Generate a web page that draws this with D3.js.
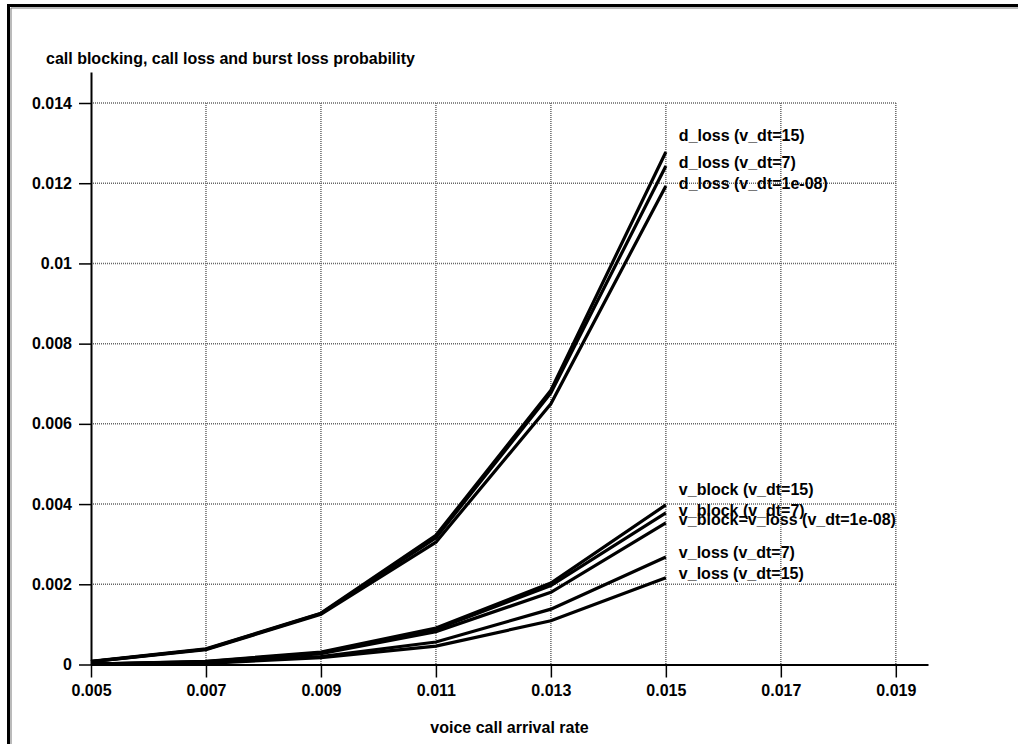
<!DOCTYPE html>
<html>
<head>
<meta charset="utf-8">
<script src="https://cdn.jsdelivr.net/npm/d3@7"></script>
<style>
  html, body { margin: 0; padding: 0; background: #fff; }
  svg { display: block; }
  text { font-family: "Liberation Sans", Arial, sans-serif; font-weight: bold; font-size: 16px; fill: #000; }
</style>
</head>
<body>
<svg></svg>
<script>
// voice call arrival rate (x)
const rates = [0.005, 0.007, 0.009, 0.011, 0.013, 0.015];

const seriesNames = [
  "d_loss (v_dt=15)",
  "d_loss (v_dt=7)",
  "d_loss (v_dt=1e-08)",
  "v_block (v_dt=15)",
  "v_block (v_dt=7)",
  "v_block=v_loss (v_dt=1e-08)",
  "v_loss (v_dt=7)",
  "v_loss (v_dt=15)"
];

const dLoss15 = [0.00008, 0.00039, 0.00128, 0.00322, 0.00684, 0.01278];
const dLoss7 = [0.00007, 0.00038, 0.00127, 0.00316, 0.00677, 0.01243];
const dLoss1e8 = [0.00007, 0.00037, 0.00125, 0.00305, 0.0065, 0.01193];
const vBlock15 = [0.00001, 0.00008, 0.00031, 0.00091, 0.00203, 0.00398];
const vBlock7 = [0.00001, 0.00007, 0.00029, 0.00088, 0.00197, 0.00378];
const vBlockLoss1e8 = [0.00001, 0.00006, 0.00027, 0.00082, 0.0018, 0.00353];
const vLoss7 = [0.00001, 0.00004, 0.0002, 0.00056, 0.00138, 0.00268];
const vLoss15 = [0.00001, 0.00003, 0.00017, 0.00046, 0.00109, 0.00216];

// where each end label sits, in probability units
const labelValues = [0.013055, 0.012382, 0.011858, 0.004227, 0.003703, 0.003479, 0.002656, 0.002132];

const xTicks = [0.005, 0.007, 0.009, 0.011, 0.013, 0.015, 0.017, 0.019];
const yTicks = [0, 0.002, 0.004, 0.006, 0.008, 0.01, 0.012, 0.014];

const allSeries = [dLoss15, dLoss7, dLoss1e8, vBlock15, vBlock7, vBlockLoss1e8, vLoss7, vLoss15];

const svgWidth = 1018;
const svgHeight = 744;

const svg = d3.select("svg")
  .attr("width", svgWidth)
  .attr("height", svgHeight);

svg.append("rect")
  .attr("width", svgWidth)
  .attr("height", svgHeight)
  .attr("fill", "#fff");

// frame, only top and left edges show
svg.append("path")
  .attr("d", "M8.5,744 V5.5 H1018")
  .attr("fill", "none")
  .attr("stroke", "#000")
  .attr("stroke-width", 3);
svg.append("path")
  .attr("d", "M11,744 V8 H1018")
  .attr("fill", "none")
  .attr("stroke", "#777")
  .attr("stroke-width", 1);

const xScale = d3.scaleLinear()
  .domain([0.005, 0.01956])
  .range([91, 928]);

const yScale = d3.scaleLinear()
  .domain([0, 0.014])
  .range([664.5, 103]);

const yTop = yScale.invert(72);

// grid
const grid = svg.append("g")
  .attr("stroke", "#666")
  .attr("stroke-width", 1.5)
  .attr("stroke-dasharray", "1,1");

grid.selectAll(".hgrid")
  .data(yTicks.slice(1))
  .enter()
  .append("line")
  .attr("x1", xScale(0.005))
  .attr("x2", xScale(0.019))
  .attr("y1", d => yScale(d))
  .attr("y2", d => yScale(d));

grid.selectAll(".vgrid")
  .data(xTicks.slice(1))
  .enter()
  .append("line")
  .attr("x1", d => xScale(d))
  .attr("x2", d => xScale(d))
  .attr("y1", yScale(0.014))
  .attr("y2", yScale(0));

// axes
const x_axis = d3.axisBottom(xScale)
  .tickValues(xTicks)
  .tickSize(13)
  .tickPadding(7)
  .tickSizeOuter(0)
  .tickFormat(d3.format(".3f"));

const y_axis = d3.axisLeft(yScale.copy().domain([0, yTop]).range([664.5, 72]))
  .tickValues(yTicks)
  .tickSize(12)
  .tickPadding(7)
  .tickSizeOuter(0)
  .tickFormat(d => d === 0 ? "0" : d3.format("")(+d.toFixed(3)));

const xg = svg.append("g")
  .attr("transform", "translate(0," + yScale(0) + ")")
  .call(x_axis);

const yg = svg.append("g")
  .attr("transform", "translate(" + xScale(0.005) + ",0)")
  .call(y_axis);

[xg, yg].forEach(g => {
  g.attr("font-family", null).attr("font-size", null);
  g.select(".domain").attr("stroke", "#000").attr("stroke-width", 2);
  g.selectAll(".tick line").attr("stroke", "#000").attr("stroke-width", 1.5);
  g.selectAll(".tick text").attr("fill", "#000");
});

// curves
const line = d3.line()
  .x((d, i) => xScale(rates[i]))
  .y(d => yScale(d));

svg.append("g")
  .selectAll("path")
  .data(allSeries)
  .enter()
  .append("path")
  .attr("d", d => line(d))
  .attr("fill", "none")
  .attr("stroke", "#000")
  .attr("stroke-width", 3.2)
  .attr("stroke-linejoin", "miter");

// end labels (the v_block ones overlap in the original too)
svg.append("g")
  .selectAll("text")
  .data(seriesNames)
  .enter()
  .append("text")
  .attr("x", xScale(0.015) + 13)
  .attr("y", (d, i) => yScale(labelValues[i]))
  .text(d => d);

// titles
svg.append("text")
  .attr("x", 46)
  .attr("y", 64)
  .text("call blocking, call loss and burst loss probability");

svg.append("text")
  .attr("x", (xScale.range()[0] + xScale.range()[1]) / 2)
  .attr("y", 733)
  .attr("text-anchor", "middle")
  .text("voice call arrival rate");
</script>
</body>
</html>
